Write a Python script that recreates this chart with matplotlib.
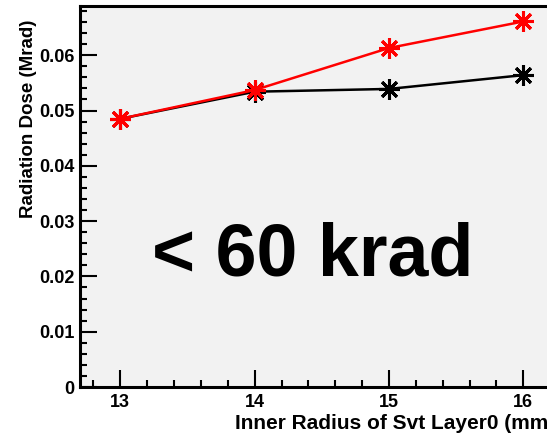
import matplotlib
matplotlib.use("Agg")
import matplotlib.pyplot as plt
from matplotlib.ticker import MultipleLocator

plt.rcParams['font.family'] = ['Liberation Sans', 'DejaVu Sans']
plt.rcParams['font.weight'] = 'bold'

# Inner radius of SVT layer 0 (mm)
radius = [13, 14, 15, 16]
# Radiation dose (Mrad)
dose_red = [0.0485, 0.0537, 0.0613, 0.0661]
dose_black = [0.0485, 0.0534, 0.0539, 0.0564]

fig = plt.figure(figsize=(5.47, 4.37), dpi=100)
fig.patch.set_facecolor('white')
ax = fig.add_axes([0.1463, 0.1144, 0.884, 0.8719])
ax.set_facecolor('#f2f2f2')

star = (8, 2, 0)
ax.plot(radius, dose_black, color='black', lw=1.8, marker=star,
        ms=15, mew=2.2, mec='black', zorder=3)
ax.plot(radius, dose_red, color='red', lw=1.8, marker=star,
        ms=15, mew=2.2, mec='red', zorder=4)

ax.set_xlim(12.7, 16.3)
ax.set_ylim(0, 0.0689)

ax.xaxis.set_major_locator(MultipleLocator(1))
ax.xaxis.set_minor_locator(MultipleLocator(0.2))
ax.yaxis.set_major_locator(MultipleLocator(0.01))
ax.yaxis.set_minor_locator(MultipleLocator(0.002))

ax.tick_params(which='both', direction='in', top=False, right=False,
               width=1.5, labelsize=13)
ax.tick_params(which='major', length=12)
ax.tick_params(which='minor', length=5)
ax.tick_params(axis='x', pad=5)
ax.tick_params(axis='y', pad=4)

ax.set_yticks([0, 0.01, 0.02, 0.03, 0.04, 0.05, 0.06])
ax.set_yticklabels(['0', '0.01', '0.02', '0.03', '0.04', '0.05', '0.06'],
                   fontweight='bold')
ax.set_xticks([13, 14, 15, 16])
ax.set_xticklabels(['13', '14', '15', '16'], fontweight='bold')

for side in ['left', 'bottom', 'top']:
    ax.spines[side].set_linewidth(2.2)
ax.spines['right'].set_visible(False)

ax.set_xlabel('Inner Radius of Svt Layer0 (mm)', fontsize=15,
              fontweight='bold')
ax.xaxis.label.set_horizontalalignment('left')
ax.xaxis.label.set_verticalalignment('top')
ax.xaxis.set_label_coords(0.320, -0.071)

ax.set_ylabel('Radiation Dose (Mrad)', fontsize=13.5, fontweight='bold')
ax.yaxis.label.set_horizontalalignment('right')
ax.yaxis.set_label_coords(-0.088, 0.963)

ax.text(14.43, 0.0201, '< 60 krad', fontsize=53, fontweight='bold',
        ha='center', va='baseline')

fig.savefig('out.png', dpi=100, facecolor='white')
